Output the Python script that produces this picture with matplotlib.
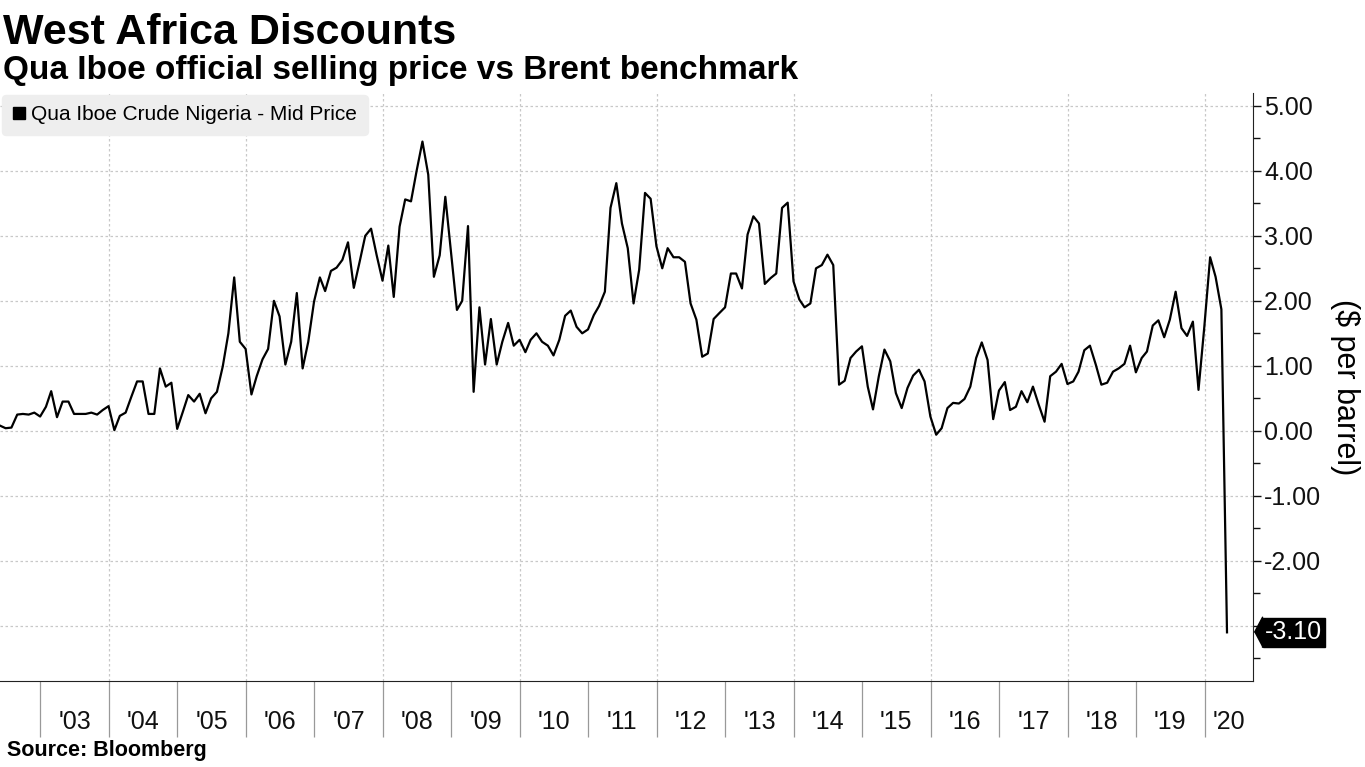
import matplotlib
matplotlib.use('Agg')
import matplotlib.pyplot as plt
import matplotlib.dates as mdates
import matplotlib.ticker as mticker
import matplotlib.transforms as mtransforms
from matplotlib.lines import Line2D
import pandas as pd

# monthly Qua Iboe discount vs Brent ($/bbl), month-end values, May 2002 - Apr 2020
y2002 = [0.08, 0.04, 0.05, 0.25, 0.26, 0.25, 0.28, 0.22]
y2003 = [0.37, 0.61, 0.21, 0.45, 0.45, 0.26, 0.26, 0.26, 0.28, 0.25, 0.32, 0.38]
y2004 = [0.01, 0.23, 0.28, 0.52, 0.76, 0.76, 0.26, 0.26, 0.96, 0.68, 0.74, 0.03]
y2005 = [0.30, 0.55, 0.45, 0.57, 0.27, 0.50, 0.60, 0.99, 1.50, 2.36, 1.37, 1.26]
y2006 = [0.56, 0.84, 1.10, 1.26, 2.00, 1.76, 1.02, 1.37, 2.12, 0.96, 1.37, 1.99]
y2007 = [2.36, 2.15, 2.46, 2.51, 2.63, 2.90, 2.20, 2.60, 3.00, 3.11, 2.70, 2.31]
y2008 = [2.85, 2.06, 3.14, 3.56, 3.53, 4.00, 4.45, 3.94, 2.37, 2.70, 3.60, 2.73]
y2009 = [1.86, 2.00, 3.15, 0.60, 1.90, 1.02, 1.72, 1.02, 1.37, 1.66, 1.31, 1.40]
y2010 = [1.21, 1.40, 1.50, 1.37, 1.31, 1.16, 1.40, 1.77, 1.85, 1.60, 1.50, 1.56]
y2011 = [1.78, 1.92, 2.14, 3.43, 3.81, 3.19, 2.81, 1.96, 2.48, 3.66, 3.57, 2.84]
y2012 = [2.50, 2.81, 2.67, 2.67, 2.60, 1.96, 1.71, 1.14, 1.19, 1.72, 1.81, 1.90]
y2013 = [2.42, 2.42, 2.19, 3.02, 3.30, 3.19, 2.26, 2.35, 2.42, 3.43, 3.51, 2.30]
y2014 = [2.02, 1.90, 1.96, 2.50, 2.55, 2.71, 2.55, 0.71, 0.77, 1.12, 1.22, 1.30]
y2015 = [0.68, 0.33, 0.84, 1.25, 1.07, 0.58, 0.35, 0.66, 0.85, 0.94, 0.76, 0.22]
y2016 = [-0.06, 0.04, 0.35, 0.43, 0.42, 0.49, 0.68, 1.12, 1.36, 1.09, 0.18, 0.62]
y2017 = [0.75, 0.32, 0.37, 0.61, 0.44, 0.68, 0.40, 0.14, 0.84, 0.91, 1.03, 0.72]
y2018 = [0.76, 0.91, 1.24, 1.31, 1.02, 0.71, 0.74, 0.91, 0.96, 1.03, 1.31, 0.90]
y2019 = [1.12, 1.22, 1.62, 1.70, 1.44, 1.71, 2.14, 1.58, 1.46, 1.68, 0.63, 1.60]
y2020 = [2.67, 2.37, 1.87, -3.10]

values = (y2002 + y2003 + y2004 + y2005 + y2006 + y2007 + y2008 + y2009 + y2010
          + y2011 + y2012 + y2013 + y2014 + y2015 + y2016 + y2017 + y2018
          + y2019 + y2020)
dates = pd.date_range('2002-05-31', periods=len(values), freq='ME')
years = list(range(2003, 2021))
y_ticks = [5, 4, 3, 2, 1, 0, -1, -2, -3]

plt.rcParams['font.family'] = ['Liberation Sans', 'DejaVu Sans']

fig = plt.figure(figsize=(13.65, 7.67), dpi=100)
ax = fig.add_axes([0.0, 0.112, 0.918, 0.767])

ax.plot(dates, values, color='black', lw=1.6, zorder=3)

x0 = mdates.date2num(pd.Timestamp('2002-05-31'))
x1 = mdates.date2num(pd.Timestamp('2020-09-16'))
ax.set_xlim(x0, x1)
ax.set_ylim(-3.85, 5.2)

# spines
for s in ['left', 'top']:
    ax.spines[s].set_visible(False)
ax.spines['right'].set_color('#222222')
ax.spines['bottom'].set_color('#222222')

last = values[-1]

# y axis on the right; the label hidden under the last-value tag is left blank
ax.yaxis.tick_right()
ax.yaxis.set_major_locator(mticker.FixedLocator(y_ticks))
ax.yaxis.set_minor_locator(mticker.MultipleLocator(0.5))
ax.yaxis.set_major_formatter(mticker.FuncFormatter(
    lambda v, p: '' if abs(v - last) < 0.3 else '%.2f' % v))
ax.tick_params(axis='y', which='major', length=6, width=1, pad=2,
               labelsize=18, colors='#111111')
ax.tick_params(axis='y', which='minor', length=5, width=1, colors='#111111')
ax.set_ylabel('($ per barrel)', rotation=270, fontsize=22, labelpad=28)
ax.yaxis.set_label_position('right')
ax.grid(axis='y', which='major', color='#c8c8c8', lw=0.9, ls=(0, (2, 2)))

# x axis: separators at year starts, labels centred in each (visible) year
year_starts = [mdates.date2num(pd.Timestamp(f'{y}-01-01')) for y in years]
label_pos = []
for i, y in enumerate(years):
    a = year_starts[i]
    b = year_starts[i + 1] if i + 1 < len(years) else x1
    label_pos.append((a + min(b, x1)) / 2)
ax.xaxis.set_major_locator(mticker.FixedLocator(year_starts))
ax.xaxis.set_major_formatter(mticker.NullFormatter())
ax.xaxis.set_minor_locator(mticker.FixedLocator(label_pos))
ax.xaxis.set_minor_formatter(mticker.FixedFormatter(["'%02d" % (y % 100) for y in years]))
ax.tick_params(axis='x', which='major', length=40, width=0.9, color='#999999')
ax.tick_params(axis='x', which='minor', length=0, pad=21, labelsize=18,
               labelcolor='#111111')

for y in years:
    if y % 2 == 0:
        ax.axvline(mdates.date2num(pd.Timestamp(f'{y}-01-01')), color='#c8c8c8',
                   lw=0.9, ls=(0, (2, 2)), zorder=1)

# legend
h = Line2D([], [], color='black', marker='s', ls='none', markersize=9)
leg = ax.legend([h], ['Qua Iboe Crude Nigeria - Mid Price'], loc='upper left',
                bbox_to_anchor=(0.0, 1.0), borderaxespad=0.1, fontsize=15,
                handlelength=0.6, handletextpad=0.3, borderpad=0.5,
                frameon=True, fancybox=True, framealpha=1)
leg.get_frame().set_facecolor('#eeeeee')
leg.get_frame().set_edgecolor('#eeeeee')

# last value tag: small notch + black box
base = mtransforms.blended_transform_factory(ax.transAxes, ax.transData)
notch = mtransforms.offset_copy(base, fig=fig, x=5, y=0, units='dots')
ax.plot([1.0], [last], transform=notch, marker=[(-4, 0), (4, 15), (4, -15)],
        markersize=22, color='black', mec='black', clip_on=False, zorder=10)
tag = mtransforms.offset_copy(base, fig=fig, x=12, y=0, units='dots')
ax.text(1.0, last, '%.2f' % last, transform=tag, ha='left', va='center',
        color='white', fontsize=18, zorder=11, clip_on=False,
        bbox=dict(boxstyle='square,pad=0.1', fc='black', ec='black'))

fig.text(0.002, 0.942, 'West Africa Discounts', fontsize=31, fontweight='bold',
         ha='left', va='baseline')
fig.text(0.002, 0.897, 'Qua Iboe official selling price vs Brent benchmark',
         fontsize=24, fontweight='bold', ha='left', va='baseline')
fig.text(0.005, 0.008, 'Source: Bloomberg', fontsize=15.5, fontweight='bold',
         ha='left', va='bottom')

fig.savefig('out.png', dpi=100)
